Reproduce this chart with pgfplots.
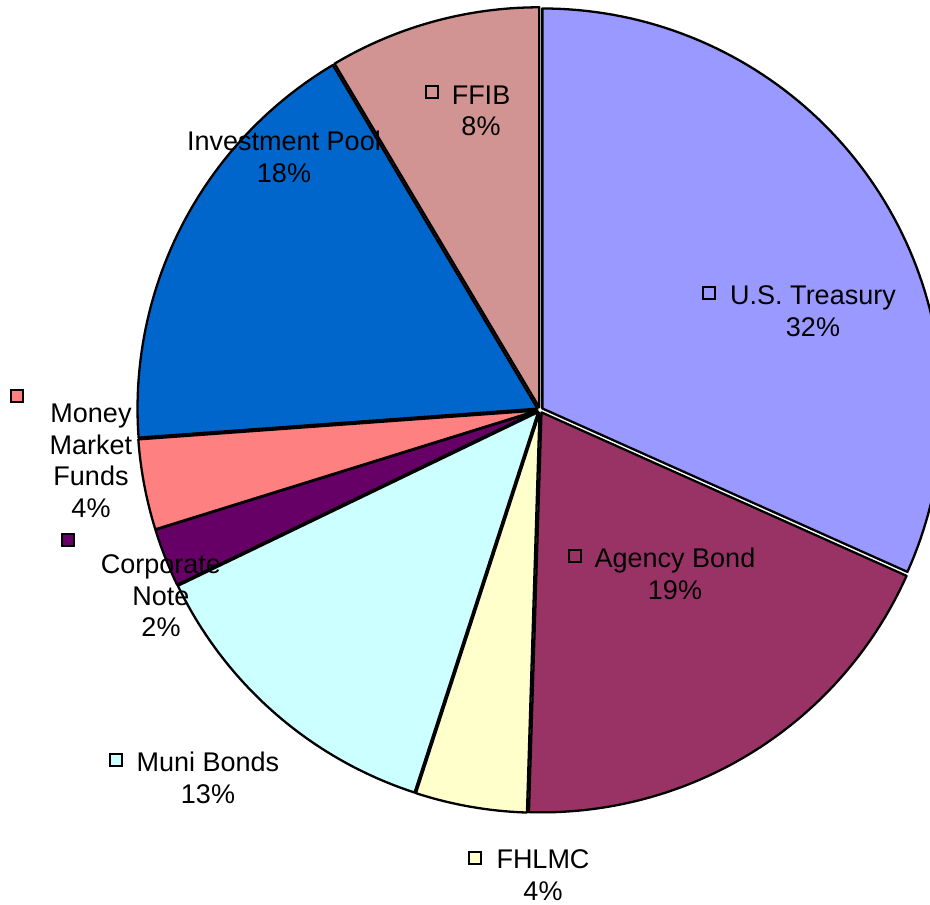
\documentclass[border=0pt]{standalone}
\usepackage{pgfplots}
\pgfplotsset{compat=1.18}
\usepackage{fontspec}
\setmainfont{Liberation Sans}
\definecolor{c1}{HTML}{9999FF}
\definecolor{c2}{HTML}{993366}
\definecolor{c3}{HTML}{FFFFCC}
\definecolor{c4}{HTML}{CCFFFF}
\definecolor{c5}{HTML}{660066}
\definecolor{c6}{HTML}{FF8080}
\definecolor{c7}{HTML}{0066CC}
\definecolor{c8}{HTML}{D29492}
\newcommand\lf{\fontsize{27}{31.5}\selectfont}
% pie geometry (pixel units)
\def\cx{540}\def\cy{495}\def\rr{400}\def\ex{2.8}
\newcommand{\slice}[3]{% start percent, value percent, colour
  \pgfmathsetmacro\sa{3.6*#1}%
  \pgfmathsetmacro\sb{3.6*(#1+#2)}%
  \pgfmathsetmacro\sm{3.6*(#1+#2/2)}%
  \pgfmathsetmacro\dx{\cx+\ex*sin(\sm)}%
  \pgfmathsetmacro\dy{\cy+\ex*cos(\sm)}%
  \edef\temp{\noexpand\addplot[fill=#3, draw=black, line width=2.3pt, line join=round,
     domain=\sa:\sb, samples=90, variable=\noexpand\t]
     ({\dx+\rr*sin(\noexpand\t)}, {\dy+\rr*cos(\noexpand\t)}) -- (\dx,\dy) -- cycle;}%
  \temp
}
\begin{document}
\begin{tikzpicture}
\useasboundingbox (0,0) rectangle (930pt,905pt);
\begin{axis}[
  at={(0,0)}, anchor=south west,
  width=930pt, height=905pt, scale only axis,
  xmin=0, xmax=930, ymin=0, ymax=905,
  hide axis, clip=true,
]
% values (percent): U.S. Treasury 31.7, Agency Bond 18.8, FHLMC 4.5, Muni Bonds 12.85,
% Corporate Note 2.35, Money Market Funds 3.65, Investment Pool 17.6, FFIB 8.55
\slice{0}{31.7}{c1}
\slice{31.7}{18.8}{c2}
\slice{50.5}{4.5}{c3}
\slice{55.0}{12.85}{c4}
\slice{67.85}{2.35}{c5}
\slice{70.2}{3.65}{c6}
\slice{73.85}{17.6}{c7}
\slice{91.45}{8.55}{c8}
% labels
\tikzset{lab/.style={font=\lf, align=center, inner sep=0pt, text=black},
         key/.style={draw=black, line width=2.2pt, minimum size=11.5pt, inner sep=0pt}}
\node[lab] at (813,594) {U.S. Treasury\\32\%};
\node[key, fill=c1] at (709,612) {};
\node[lab] at (675,331) {Agency Bond\\19\%};
\node[key, fill=c2] at (575,349) {};
\node[lab] at (543,30) {FHLMC\\4\%};
\node[key, fill=c3] at (475,47) {};
\node[lab] at (208,127) {Muni Bonds\\13\%};
\node[key, fill=c4] at (116,145) {};
\node[lab] at (161,309) {Corporate\\Note\\2\%};
\node[key, fill=c5] at (68,365) {};
\node[lab] at (91,444) {Money\\Market\\Funds\\4\%};
\node[key, fill=c6] at (17,509) {};
\node[lab] at (284,748) {Investment Pool\\18\%};
\node[lab] at (481,794) {FFIB\\8\%};
\node[key, fill=c8] at (432,813) {};
\end{axis}
\end{tikzpicture}
\end{document}
